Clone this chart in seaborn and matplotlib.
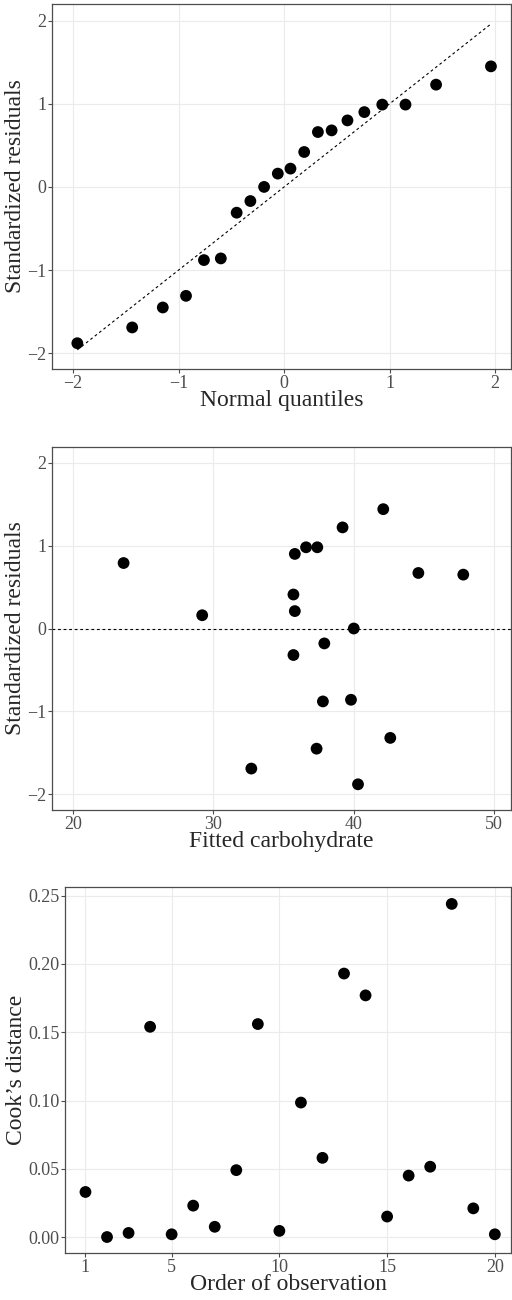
import matplotlib
matplotlib.use("Agg")
import matplotlib.pyplot as plt
import seaborn as sns
import pandas as pd

# Panel 1: normal Q-Q plot of standardized residuals
normal_quantiles = [-1.96, -1.44, -1.15, -0.93, -0.76, -0.60, -0.45, -0.32, -0.19, -0.06,
                    0.06, 0.19, 0.32, 0.45, 0.60, 0.76, 0.93, 1.15, 1.44, 1.96]
sorted_residuals = [-1.88, -1.69, -1.45, -1.31, -0.88, -0.86, -0.31, -0.17, 0.00, 0.16,
                    0.22, 0.42, 0.66, 0.68, 0.80, 0.90, 0.99, 0.99, 1.23, 1.45]

# Panel 2: residuals vs fitted
fitted = [23.6, 29.2, 35.8, 36.6, 37.4, 39.2, 42.1, 44.6, 47.8, 35.7,
          35.8, 40.0, 37.9, 35.7, 37.8, 39.8, 42.6, 37.35, 32.7, 40.3]
std_resid = [0.79, 0.16, 0.90, 0.98, 0.98, 1.22, 1.44, 0.67, 0.65, 0.41,
             0.21, 0.00, -0.18, -0.32, -0.88, -0.86, -1.32, -1.45, -1.69, -1.88]

# Panel 3: Cook's distance by observation
order = list(range(1, 21))
cooks = [0.033, 0.000, 0.003, 0.154, 0.002, 0.023, 0.0075, 0.049, 0.156, 0.0045,
         0.0985, 0.058, 0.193, 0.177, 0.015, 0.045, 0.0515, 0.244, 0.021, 0.002]

sns.set_style("white")
plt.rcParams['font.family'] = ['Liberation Serif', 'DejaVu Serif']

fig = plt.figure(figsize=(5.12, 13), dpi=100)
ax1 = fig.add_axes([52/512, 1 - 369/1300, 459/512, 365/1300])
ax2 = fig.add_axes([52/512, 1 - 810/1300, 459/512, 363/1300])
ax3 = fig.add_axes([65/512, 1 - 1253/1300, 446/512, 366/1300])

tick_col = '#4d4d4d'
pt = dict(color='black', s=72, edgecolor='none', zorder=3)

qq = pd.DataFrame({'q': normal_quantiles, 'r': sorted_residuals})
ax1.plot([normal_quantiles[0], normal_quantiles[-1]], [normal_quantiles[0], normal_quantiles[-1]],
         color='black', ls=(0, (2.5, 2.5)), lw=0.8, zorder=2)
sns.scatterplot(data=qq, x='q', y='r', ax=ax1, **pt)
ax1.set_xlim(-2.2, 2.15)
ax1.set_ylim(-2.19, 2.2)
ax1.set_xticks([-2, -1, 0, 1, 2])
ax1.set_yticks([-2, -1, 0, 1, 2])
ax1.set_xticklabels(['\u22122', '\u22121', '0', '1', '2'])
ax1.set_yticklabels(['\u22122', '\u22121', '0', '1', '2'])
ax1.set_xlabel('Normal quantiles')
ax1.set_ylabel('Standardized residuals')

rf = pd.DataFrame({'f': fitted, 'r': std_resid})
ax2.axhline(0, color='black', ls=(0, (2.5, 2.5)), lw=0.8, zorder=2)
sns.scatterplot(data=rf, x='f', y='r', ax=ax2, **pt)
ax2.set_xlim(18.5, 51.2)
ax2.set_ylim(-2.19, 2.19)
ax2.set_xticks([20, 30, 40, 50])
ax2.set_yticks([-2, -1, 0, 1, 2])
ax2.set_yticklabels(['\u22122', '\u22121', '0', '1', '2'])
ax2.set_xlabel('Fitted carbohydrate')
ax2.set_ylabel('Standardized residuals')

cd = pd.DataFrame({'o': order, 'c': cooks})
sns.scatterplot(data=cd, x='o', y='c', ax=ax3, **pt)
ax3.set_xlim(0.05, 20.75)
ax3.set_ylim(-0.0117, 0.2564)
ax3.set_xticks([1, 5, 10, 15, 20])
ax3.set_yticks([0, 0.05, 0.10, 0.15, 0.20, 0.25])
ax3.set_yticklabels(['0.00', '0.05', '0.10', '0.15', '0.20', '0.25'])
ax3.set_xlabel('Order of observation')
ax3.set_ylabel('Cook\u2019s distance')

for ax in (ax1, ax2, ax3):
    ax.grid(True, color='#ebebeb', lw=0.8)
    ax.set_axisbelow(True)
    for s in ax.spines.values():
        s.set_color('#4d4d4d')
        s.set_linewidth(0.9)
    ax.tick_params(axis='both', which='major', direction='out', length=3, width=0.8,
                   color='#4d4d4d', labelcolor=tick_col, labelsize=13, pad=1, bottom=True, left=True)
    ax.xaxis.label.set_size(17)
    ax.yaxis.label.set_size(17)
    ax.xaxis.labelpad = -1
    ax.yaxis.labelpad = 1

fig.savefig('out.png', dpi=100)
